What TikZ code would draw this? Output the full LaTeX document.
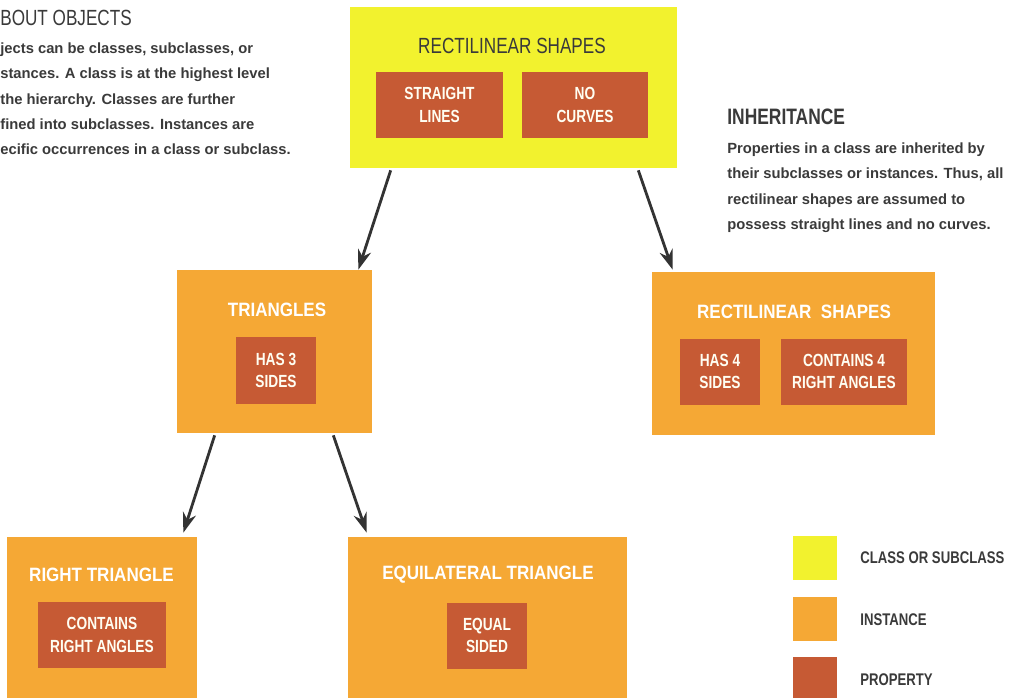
\documentclass[tikz,border=0pt]{standalone}
\usepackage{fontspec}
\setmainfont{Liberation Sans}
\newfontfamily\condfont[FakeStretch=0.78]{Liberation Sans}
\newfontfamily\semifont[FakeStretch=0.88]{Liberation Sans}
\usetikzlibrary{positioning, arrows.meta, calc}
\definecolor{clsyellow}{HTML}{F2F22E}
\definecolor{instorange}{HTML}{F5A835}
\definecolor{propbrown}{HTML}{C65A34}
\definecolor{inkgrey}{HTML}{3A3A3A}
\definecolor{arrowgrey}{HTML}{333333}

\begin{document}
\begin{tikzpicture}[x=0.02cm, y=-0.02cm,
  clsbox/.style={fill=clsyellow, minimum width=6.54cm, minimum height=3.22cm, inner sep=0pt},
  instbox/.style={fill=instorange, minimum height=3.26cm, inner sep=0pt},
  propbox/.style={fill=propbrown, minimum height=1.32cm, inner sep=0pt, text=white!95!yellow, align=center,
    font=\condfont\bfseries\fontsize{10}{13}\selectfont},
  insttitle/.style={inner sep=0pt, text=white, font=\semifont\bfseries\fontsize{11}{13}\selectfont},
  clstitle/.style={inner sep=0pt, text=inkgrey, font=\condfont\fontsize{12.5}{14}\selectfont},
  bodytext/.style={anchor=north west, inner sep=0pt, align=left, text=inkgrey,
    font=\bfseries\fontsize{8.4}{14.5}\selectfont},
  legsq/.style={minimum width=0.88cm, minimum height=0.88cm, inner sep=0pt},
  leglabel/.style={anchor=west, inner sep=0pt, text=inkgrey, font=\condfont\bfseries\fontsize{9.6}{12}\selectfont},
  arr/.style={draw=arrowgrey, line width=1.6pt, -{Stealth[length=4mm, width=2.7mm]}}
]
  \useasboundingbox (0,0) rectangle (1013,697);
  \fill[white] (0,0) rectangle (1013,697);

  \node[anchor=base west, inner sep=0pt, text=inkgrey, font=\condfont\fontsize{12.5}{14}\selectfont] (abouthd) at (0,25) {BOUT OBJECTS};
  \node[bodytext] (abouttx) at (0,42) {jects can be classes, subclasses, or\\stances. A class is at the highest level\\the hierarchy. Classes are further\\fined into subclasses. Instances are\\ecific occurrences in a class or subclass.};

  \node[anchor=base west, inner sep=0pt, text=inkgrey, font=\condfont\bfseries\fontsize{12.7}{14}\selectfont] (inherhd) at (727,124) {INHERITANCE};
  \node[bodytext] (inhertx) at (727,142) {Properties in a class are inherited by\\their subclasses or instances. Thus, all\\rectilinear shapes are assumed to\\possess straight lines and no curves.};

  \node[clsbox] (cls) at (513.5,87.5) {};
  \node[clstitle] (clst) at (512,46) {RECTILINEAR SHAPES};
  \node[propbox, minimum width=2.54cm] (sl) at (439.5,105) {STRAIGHT\\LINES};
  \node[propbox, minimum width=2.52cm] (nc) at (585,105) {NO\\CURVES};

  \node[instbox, minimum width=3.9cm] (tri) at (274.5,351.5) {};
  \node[insttitle] (trit) at (277,310) {TRIANGLES};
  \node[propbox, minimum width=1.6cm, minimum height=1.34cm] (h3) at (276,370.5) {HAS 3\\SIDES};

  \node[instbox, minimum width=5.66cm] (rect) at (793.5,353.5) {};
  \node[insttitle] (rectt) at (794,312) {RECTILINEAR\ \ SHAPES};
  \node[propbox, minimum width=1.6cm] (h4) at (720,371.5) {HAS 4\\SIDES};
  \node[propbox, minimum width=2.52cm] (c4) at (844,371.5) {CONTAINS 4\\RIGHT ANGLES};

  \node[instbox, minimum width=3.8cm] (rt) at (102,618.5) {};
  \node[insttitle] (rtt) at (101.5,575) {RIGHT TRIANGLE};
  \node[propbox, minimum width=2.56cm] (rp) at (102,635) {CONTAINS\\RIGHT ANGLES};

  \node[instbox, minimum width=5.58cm] (eq) at (487.5,618.5) {};
  \node[insttitle] (eqt) at (488,575) {EQUILATERAL TRIANGLE};
  \node[propbox, minimum width=1.6cm] (ep) at (487,635.5) {EQUAL\\SIDED};

  \draw[arr] ($(cls.south west)+(41,2)$) -- ($(tri.north east)+(-14,0)$);
  \draw[arr] ($(cls.south east)+(-39,2)$) -- ($(rect.north west)+(21,-2)$);
  \draw[arr] ($(tri.south west)+(38,2)$) -- ($(rt.north east)+(-14,-4)$);
  \draw[arr] ($(tri.south east)+(-39,2)$) -- ($(eq.north west)+(19,-4)$);

  \node[legsq, fill=clsyellow] (lgcls) at (815,557.5) {};
  \node[legsq, fill=instorange] (lginst) at (815,618.5) {};
  \node[legsq, fill=propbrown] (lgprop) at (815,679) {};
  \node[leglabel] (lgclst) at (860,558) {CLASS OR SUBCLASS};
  \node[leglabel] (lginstt) at (860,620) {INSTANCE};
  \node[leglabel] (lgpropt) at (860,680) {PROPERTY};
\end{tikzpicture}
\end{document}
